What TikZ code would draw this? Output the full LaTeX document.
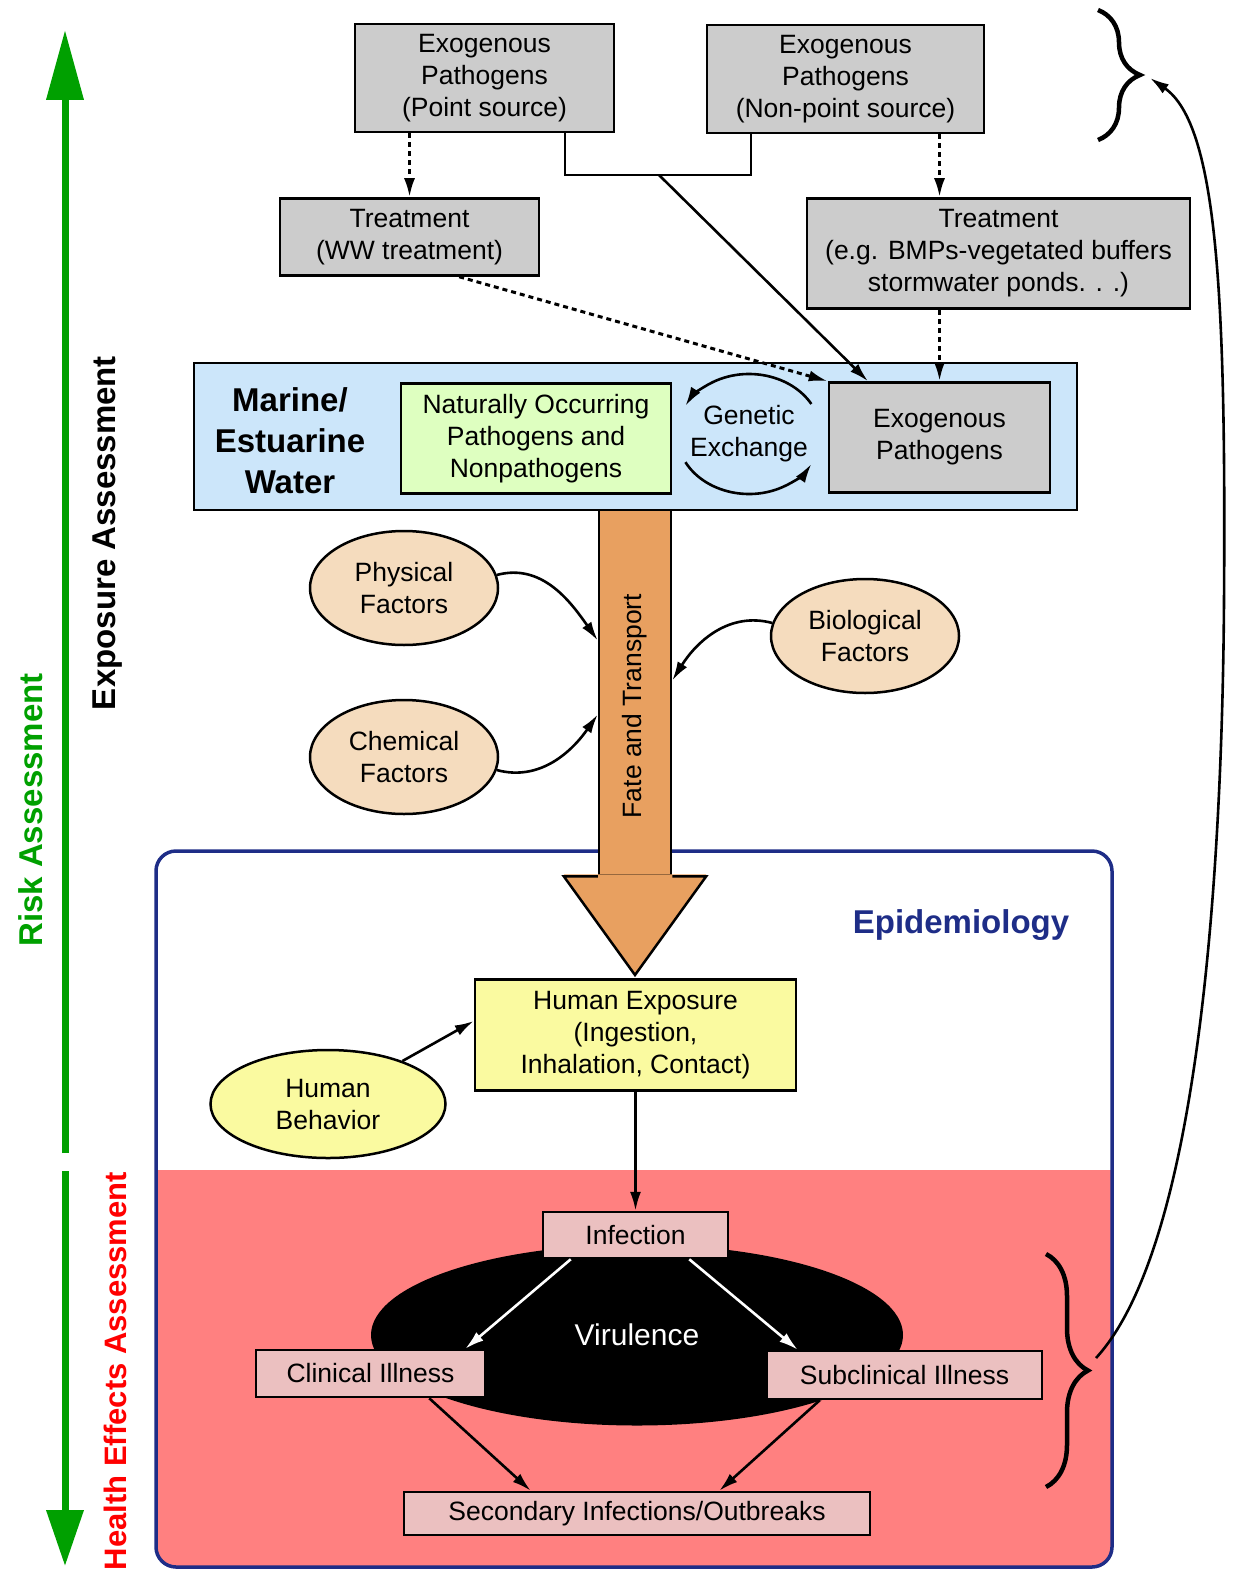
\documentclass[tikz,border=0pt]{standalone}
\usepackage{fontspec}
\setmainfont{Liberation Sans}
\usepackage{graphicx}
\usetikzlibrary{arrows.meta,shapes.geometric,calc,decorations.pathreplacing}
\definecolor{boxgray}{RGB}{204,204,204}
\definecolor{waterblue}{RGB}{204,230,250}
\definecolor{natgreen}{RGB}{222,255,192}
\definecolor{fateorange}{RGB}{232,160,96}
\definecolor{factortan}{RGB}{245,220,190}
\definecolor{exposyellow}{RGB}{250,250,160}
\definecolor{healthred}{RGB}{255,128,128}
\definecolor{illpink}{RGB}{235,192,192}
\definecolor{epinavy}{RGB}{30,45,135}
\definecolor{riskgreen}{RGB}{0,160,0}

\begin{document}
\begin{tikzpicture}[x=1pt,y=-1pt,
  every node/.style={font=\fontsize{26.5}{32}\selectfont, align=center, inner sep=0pt},
  graybox/.style={draw, line width=2.5pt, fill=boxgray},
  pinkbox/.style={draw, line width=2.5pt, fill=illpink},
  factorell/.style={ellipse, draw, line width=2.5pt, fill=factortan, minimum width=188, minimum height=114},
  boldlbl/.style={font=\fontsize{33}{41}\selectfont\bfseries},
  sidelbl/.style={boldlbl, rotate=90, anchor=base},
  link/.style={line width=2.6pt, -{Latex[length=19pt,width=11pt]}},
  dotlink/.style={link, line width=3pt, dash pattern=on 5pt off 4pt},
  sidearrow/.style={riskgreen, line width=7pt},
  curly/.style={line width=4.5pt, decorate, decoration={brace, amplitude=42pt}}]
\useasboundingbox (0,0) rectangle (1233,1573);

\begin{scope}
\clip[rounded corners=20pt] (156,851) rectangle (1112,1567);
\fill[healthred] (156,1170) rectangle (1112,1567);
\end{scope}
\draw[epinavy, line width=3.5pt, rounded corners=20pt] (156,851) rectangle (1112,1567);

\coordinate (uptop) at (65,30);
\coordinate (upstart) at (65,1153);
\coordinate (downstart) at (65,1171);
\coordinate (downend) at (65,1566);
\draw[sidearrow, -{Triangle[length=70pt,width=36pt]}] (upstart) -- (uptop);
\draw[sidearrow, -{Triangle[length=56pt,width=36pt]}] (downstart) -- (downend);
\node[sidelbl, riskgreen] (risklbl) at (42,810) {Risk Assessment};
\node[sidelbl] (exposlbl) at (115,533) {Exposure Assessment};
\node[sidelbl, red, font=\fontsize{31}{38}\selectfont\bfseries] (healthlbl) at (126,1371) {Health Effects Assessment};

\node[graybox, minimum width=259, minimum height=108] (exopt) at (484.5,78) {Exogenous\\Pathogens\\(Point source)};
\node[graybox, minimum width=277, minimum height=108] (exonp) at (845.5,79) {Exogenous\\Pathogens\\(Non-point source)};
\node[graybox, minimum width=259, minimum height=77] (treatww) at (409.5,237) {Treatment\\(WW treatment)};
\node[graybox, minimum width=383, minimum height=110] (treatbmp) at (998.5,253.5) {Treatment\\(e.g. BMPs-vegetated buffers\\stormwater ponds. . .)};

\node[draw, line width=2.5pt, fill=waterblue, minimum width=883, minimum height=147] (marine) at (635.5,436.5) {};
\node[boldlbl] (marinelbl) at (290,441) {Marine/\\Estuarine\\Water};
\node[draw, line width=2.5pt, fill=natgreen, minimum width=270, minimum height=110] (natural) at (536,438.5) {Naturally Occurring\\Pathogens and\\Nonpathogens};
\node[graybox, minimum width=221, minimum height=110] (exoin) at (939.5,437.5) {Exogenous\\Pathogens};
\node (genetic) at (749,434) {Genetic\\Exchange};
\draw[link] (genetic.center) ++(-30:72 and 60) arc[start angle=-30, end angle=-152, x radius=72, y radius=60];
\draw[link] (genetic.center) ++(152:72 and 60) arc[start angle=152, end angle=30, x radius=72, y radius=60];

\coordinate (jl) at (565,175);
\coordinate (jr) at (751,175);
\coordinate (jm) at (659,175);
\draw[line width=2.6pt] (exopt.south -| jl) -- (jl) -- (jr) -- (exonp.south -| jr);
\draw[link] (jm) -- ($(exoin.north west)!0.18!(exoin.north east)$);
\draw[dotlink] (treatww.north |- exopt.south) -- (treatww.north);
\draw[dotlink] (exoin.north |- exonp.south) -- (exoin.north |- treatbmp.north);
\draw[dotlink] (exoin.north |- treatbmp.south) -- (exoin.north);
\draw[dotlink] ($(treatww.south west)!0.69!(treatww.south east)$) -- (exoin.north west);

\node[draw, line width=2.5pt, fill=fateorange, minimum width=72, minimum height=365] (fate) at (635,692.5) {};
\coordinate (fatetip) at (635,975);
\fill[fateorange] ($(fate.south west)+(-34,-2)$) -- (fatetip) -- ($(fate.south east)+(34,-2)$) -- cycle;
\draw[line width=2.5pt] (fate.south west) -- ++(-34,0) -- (fatetip) -- ($(fate.south east)+(34,0)$) -- (fate.south east);
\node[rotate=90] (fatelbl) at (635,706) {Fate and Transport};

\node[factorell] (physical) at (404,588) {Physical\\Factors};
\node[factorell] (chemical) at (404,757) {Chemical\\Factors};
\node[factorell] (biological) at (865,636) {Biological\\Factors};
\draw[link] (physical.8) to[out=15, in=125] ($(fate.west)+(0,-52)$);
\draw[link] (chemical.-8) to[out=-15, in=235] ($(fate.west)+(0,22)$);
\draw[link] (biological.172) to[out=165, in=58] ($(fate.east)+(0,-12)$);

\node[boldlbl, epinavy] (epilbl) at (961,925) {Epidemiology};
\node[draw, line width=2.5pt, fill=exposyellow, minimum width=321, minimum height=111] (humexp) at (635.5,1035) {Human Exposure\\(Ingestion,\\Inhalation, Contact)};
\node[ellipse, draw, line width=2.5pt, fill=exposyellow, minimum width=235, minimum height=108] (humbeh) at (328,1104) {Human\\Behavior};
\draw[link] (humbeh.30) -- ($(humexp.west)+(0,-14)$);

\node[ellipse, fill=black, minimum width=532, minimum height=181, text=white, font=\fontsize{30}{36}\selectfont] (virulence) at (637,1335) {Virulence};
\node[pinkbox, minimum width=185, minimum height=46] (infection) at (635.5,1235) {Infection};
\node[pinkbox, minimum width=229, minimum height=47] (clinical) at (370.5,1373.5) {Clinical Illness};
\node[pinkbox, minimum width=275, minimum height=48] (subclinical) at (904.5,1375) {Subclinical Illness};
\node[pinkbox, minimum width=466, minimum height=43] (secondary) at (637,1513.5) {Secondary Infections/Outbreaks};
\draw[link] (humexp.south) -- (infection.north);
\draw[link, white] ($(infection.south west)+(29,0)$) -- ($(clinical.north east)+(-21,0)$);
\draw[link, white] ($(infection.south east)+(-40,0)$) -- ($(subclinical.north west)+(32,0)$);
\draw[link] ($(clinical.south east)+(-57,0)$) -- ($(secondary.north west)+(128,0)$);
\draw[link] ($(subclinical.south west)+(54,0)$) -- ($(secondary.north east)+(-152,0)$);

\draw[curly] (1046,1254) -- (1046,1487);
\draw[curly] (1098,10) -- (1098,140);
\coordinate (lowtip) at (1096,1358);
\coordinate (uptip) at (1150,78);
\draw[link] (lowtip) .. controls (1195,1250) and (1222,900) .. (1224,600) .. controls (1226,300) and (1218,125) .. (uptip);
\end{tikzpicture}
\end{document}
